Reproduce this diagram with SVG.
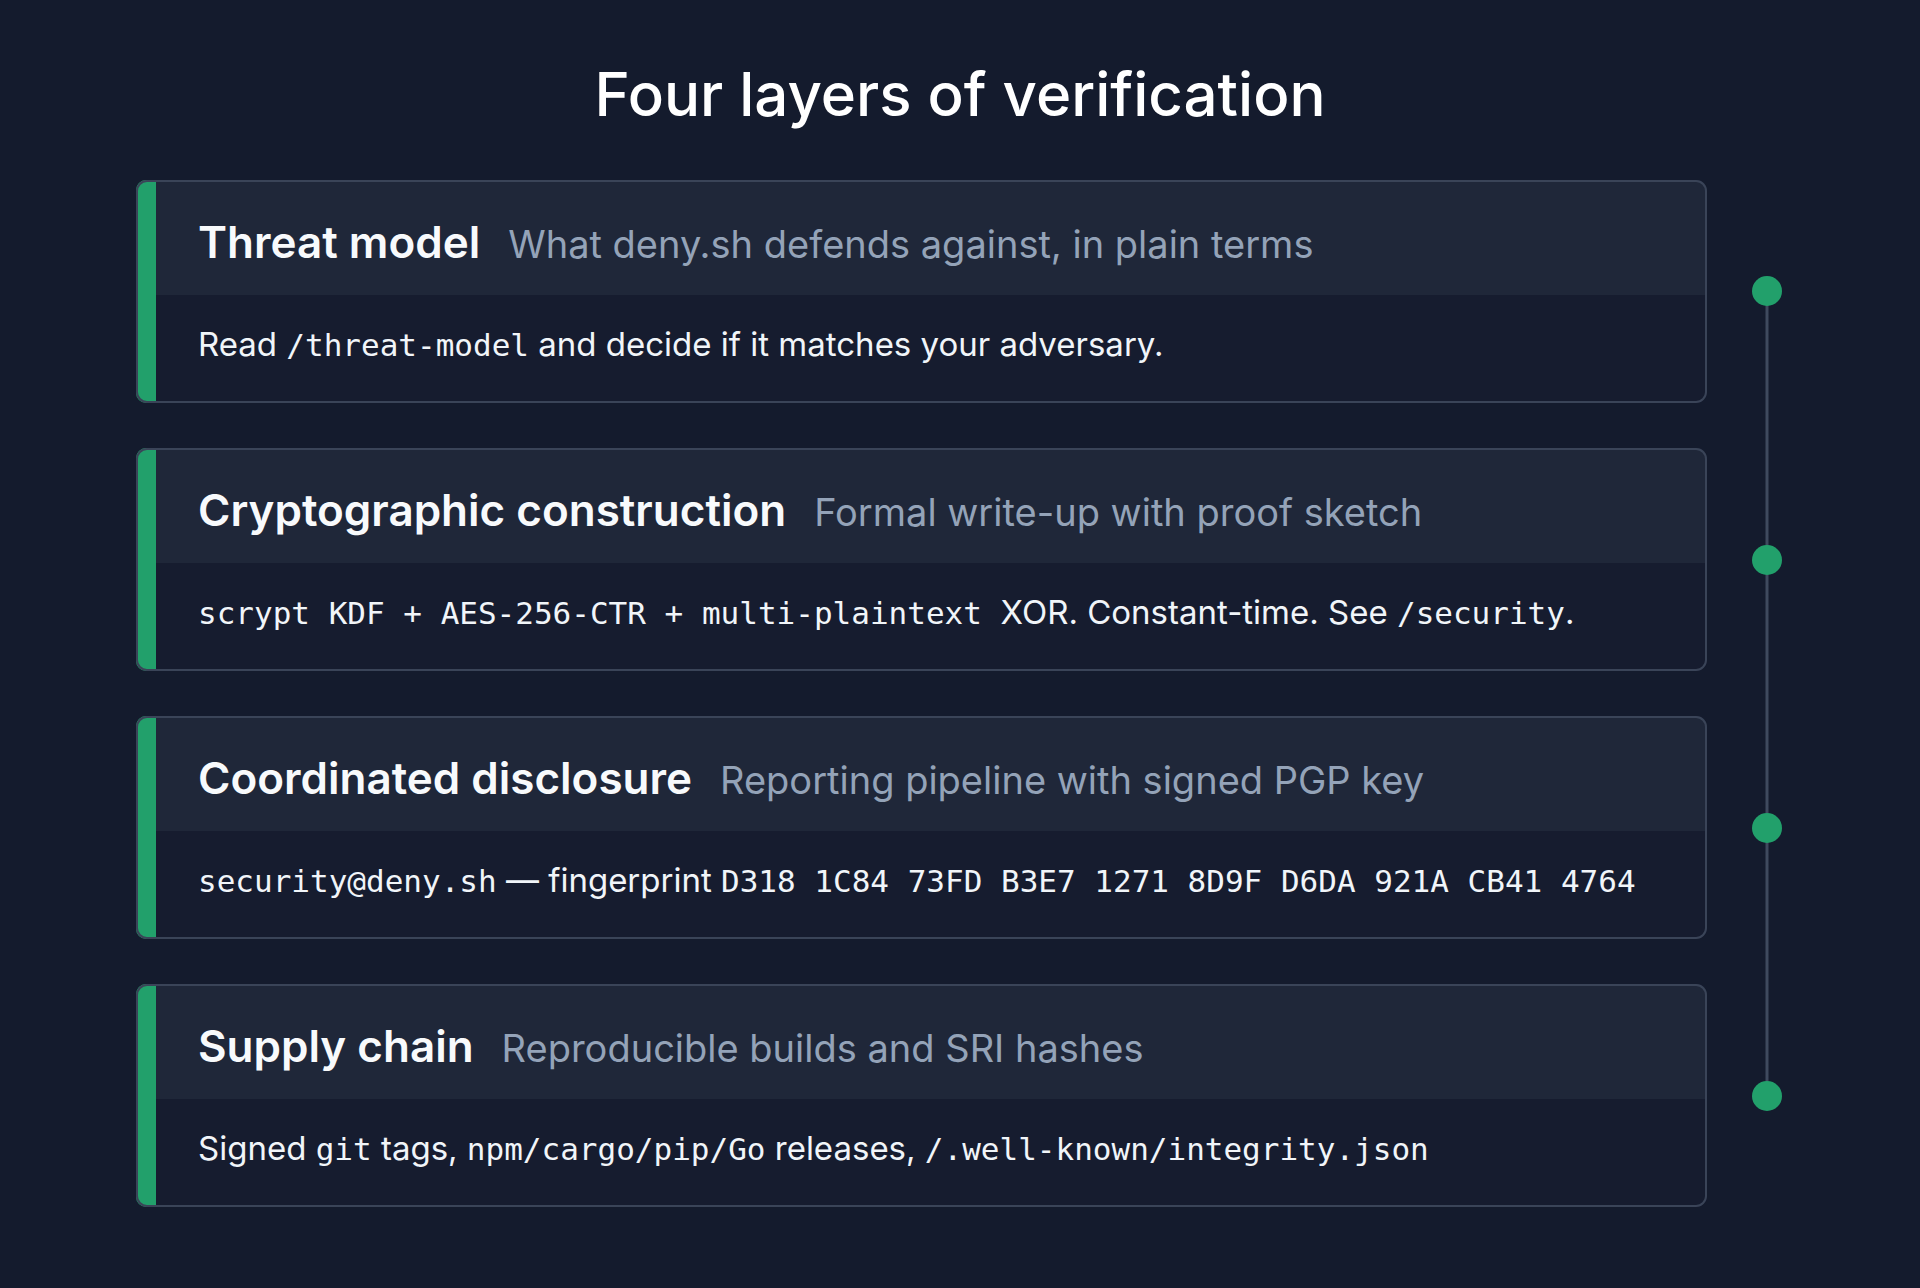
<svg xmlns="http://www.w3.org/2000/svg" width="1920" height="1288" viewBox="0 0 1920 1288">
<style>
.bg{fill:#141b2d}
.card{fill:#161c2f;stroke:#3a4458;stroke-width:2}
.head{fill:#1f2739}
.acc{fill:#22a06b}
.t{font-family:Inter,"Noto Sans",sans-serif;font-size:44px;font-weight:600;fill:#f8fafc}
.s{font-family:Inter,"Noto Sans",sans-serif;font-size:38px;fill:#94a3b8}
.b{font-family:Inter,"Noto Sans",sans-serif;font-size:33px;fill:#f1f5f9}
.m{font-family:"DejaVu Sans Mono","Liberation Mono",monospace;font-size:31px}
.title{font-family:Inter,"Noto Sans",sans-serif;font-size:60px;font-weight:500;fill:#ffffff}
</style>
<defs>
<clipPath id="c"><rect x="136" y="0" width="1571" height="223" rx="10"/></clipPath>
</defs>
<rect class="bg" width="1920" height="1288"/>
<text class="title" x="960" y="116" text-anchor="middle">Four layers of verification</text>
<g id="connectors">
<line x1="1767" y1="291" x2="1767" y2="1096" stroke="#3f4a5e" stroke-width="3"/>
<circle cx="1767" cy="291" r="15" class="acc"/>
<circle cx="1767" cy="560" r="15" class="acc"/>
<circle cx="1767" cy="828" r="15" class="acc"/>
<circle cx="1767" cy="1096" r="15" class="acc"/>
</g>
<g id="card1" transform="translate(0,180)">
<g clip-path="url(#c)"><rect x="136" y="0" width="1571" height="223" fill="#161c2f"/><rect class="head" x="136" y="0" width="1571" height="115"/><rect class="acc" x="136" y="0" width="20" height="223"/></g>
<rect class="card" x="137" y="1" width="1569" height="221" rx="10" fill="none" style="fill:none"/>
<text x="198" y="78"><tspan class="t">Threat model</tspan><tspan class="s" dx="28">What deny.sh defends against, in plain terms</tspan></text>
<text class="b" x="198" y="176">Read <tspan class="m">/threat-model</tspan> and decide if it matches your adversary.</text>
</g>
<g id="card2" transform="translate(0,448)">
<g clip-path="url(#c)"><rect x="136" y="0" width="1571" height="223" fill="#161c2f"/><rect class="head" x="136" y="0" width="1571" height="115"/><rect class="acc" x="136" y="0" width="20" height="223"/></g>
<rect class="card" x="137" y="1" width="1569" height="221" rx="10" style="fill:none"/>
<text x="198" y="78"><tspan class="t">Cryptographic construction</tspan><tspan class="s" dx="28">Formal write-up with proof sketch</tspan></text>
<text class="b" x="198" y="176"><tspan class="m">scrypt KDF + AES-256-CTR + multi-plaintext </tspan>XOR. Constant-time. See <tspan class="m">/security</tspan>.</text>
</g>
<g id="card3" transform="translate(0,716)">
<g clip-path="url(#c)"><rect x="136" y="0" width="1571" height="223" fill="#161c2f"/><rect class="head" x="136" y="0" width="1571" height="115"/><rect class="acc" x="136" y="0" width="20" height="223"/></g>
<rect class="card" x="137" y="1" width="1569" height="221" rx="10" style="fill:none"/>
<text x="198" y="78"><tspan class="t">Coordinated disclosure</tspan><tspan class="s" dx="28">Reporting pipeline with signed PGP key</tspan></text>
<text class="b" x="198" y="176"><tspan class="m">security@deny.sh</tspan> — fingerprint <tspan class="m">D318 1C84 73FD B3E7 1271 8D9F D6DA 921A CB41 4764</tspan></text>
</g>
<g id="card4" transform="translate(0,984)">
<g clip-path="url(#c)"><rect x="136" y="0" width="1571" height="223" fill="#161c2f"/><rect class="head" x="136" y="0" width="1571" height="115"/><rect class="acc" x="136" y="0" width="20" height="223"/></g>
<rect class="card" x="137" y="1" width="1569" height="221" rx="10" style="fill:none"/>
<text x="198" y="78"><tspan class="t">Supply chain</tspan><tspan class="s" dx="28">Reproducible builds and SRI hashes</tspan></text>
<text class="b" x="198" y="176">Signed <tspan class="m">git</tspan> tags, <tspan class="m">npm/cargo/pip/Go</tspan> releases, <tspan class="m">/.well-known/integrity.json</tspan></text>
</g>
</svg>
